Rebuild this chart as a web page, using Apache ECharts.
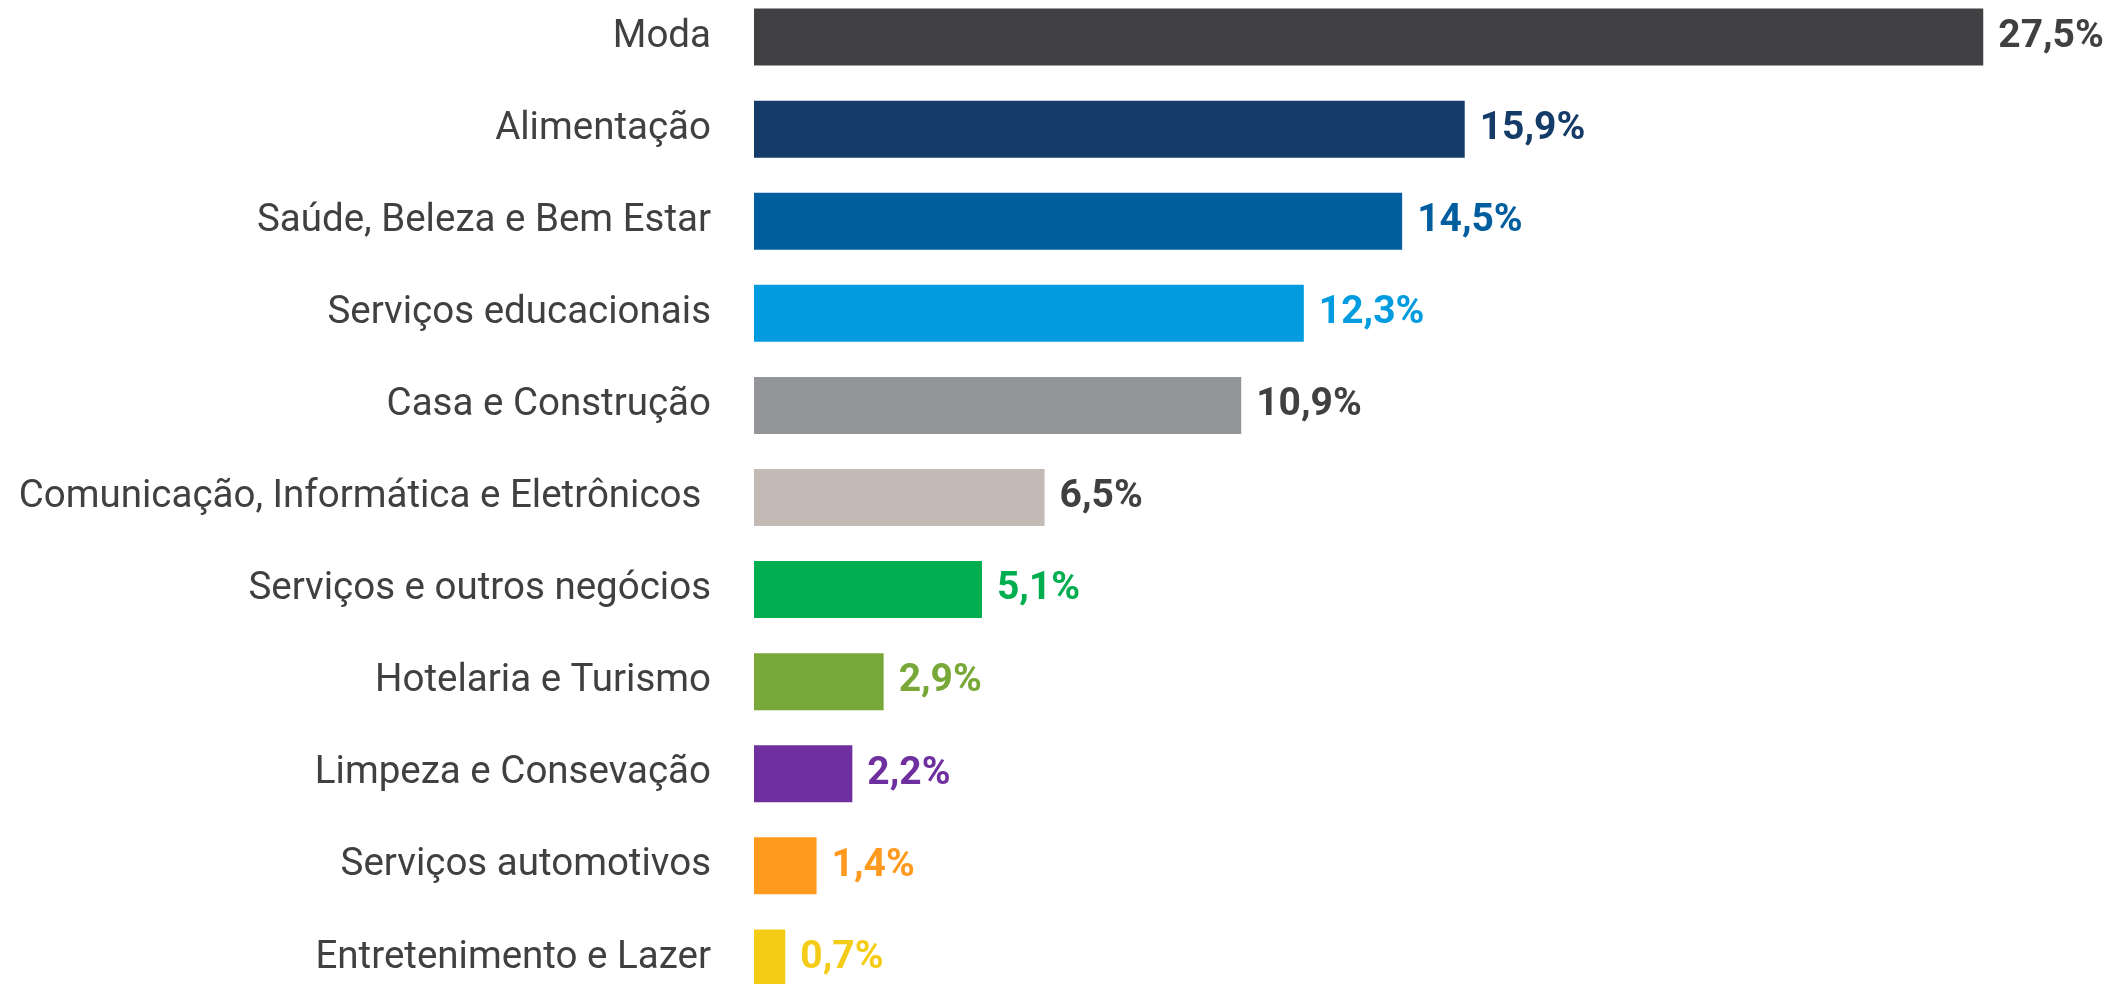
<!DOCTYPE html>
<html>
<head>
<meta charset="utf-8">
<script src="https://cdn.jsdelivr.net/npm/echarts@6/dist/echarts.min.js"></script>
<style>
  html, body { margin: 0; padding: 0; background: #fff; overflow: hidden; }
  #main { position: absolute; left: 0; top: -9px; width: 2128px; height: 1030px; }
</style>
</head>
<body>
<div id="main"></div>
<script>
// dados do gráfico
var categorias = ['Moda', 'Alimentação', 'Saúde, Beleza e Bem Estar', 'Serviços educacionais',
    'Casa e Construção', 'Comunicação, Informática e Eletrônicos ', 'Serviços e outros negócios',
    'Hotelaria e Turismo', 'Limpeza e Consevação', 'Serviços automotivos', 'Entretenimento e Lazer'];
var valores = [27.5, 15.9, 14.5, 12.3, 10.9, 6.5, 5.1, 2.9, 2.2, 1.4, 0.7];
var coresBarra = ['#414143', '#153c68', '#005e9f', '#009cdf', '#939598', '#c3bab5',
    '#00ad4f', '#78a837', '#6f2f9e', '#ff9a1f', '#f4cc17'];
var coresRotulo = ['#404040', '#153c68', '#005e9f', '#009cdf', '#404040', '#404040',
    '#00ad4f', '#78a837', '#6f2f9e', '#ff9a1f', '#f4cc17'];

var myChart = echarts.init(document.getElementById('main'));

var dados = valores.map(function (v, i) {
    return {
        value: v,
        itemStyle: { color: coresBarra[i] },
        label: { color: coresRotulo[i] }
    };
});

myChart.setOption({
    animation: false,
    grid: { left: 754, top: 0, height: 1013, width: 1341 },
    xAxis: {
        type: 'value',
        min: 0,
        max: 30,
        show: false
    },
    yAxis: {
        type: 'category',
        inverse: true,
        data: categorias,
        axisLine: { show: false },
        axisTick: { show: false },
        axisLabel: {
            margin: 43,
            fontFamily: 'Roboto',
            fontSize: 38.5,
            color: '#404040'
        }
    },
    series: [{
        type: 'bar',
        data: dados,
        barWidth: 57,
        label: {
            show: true,
            position: 'right',
            distance: 15,
            fontFamily: 'Roboto',
            fontWeight: 'bold',
            fontSize: 39,
            formatter: function (p) {
                return p.value.toFixed(1).replace('.', ',') + '%';
            }
        }
    }]
});
</script>
</body>
</html>
